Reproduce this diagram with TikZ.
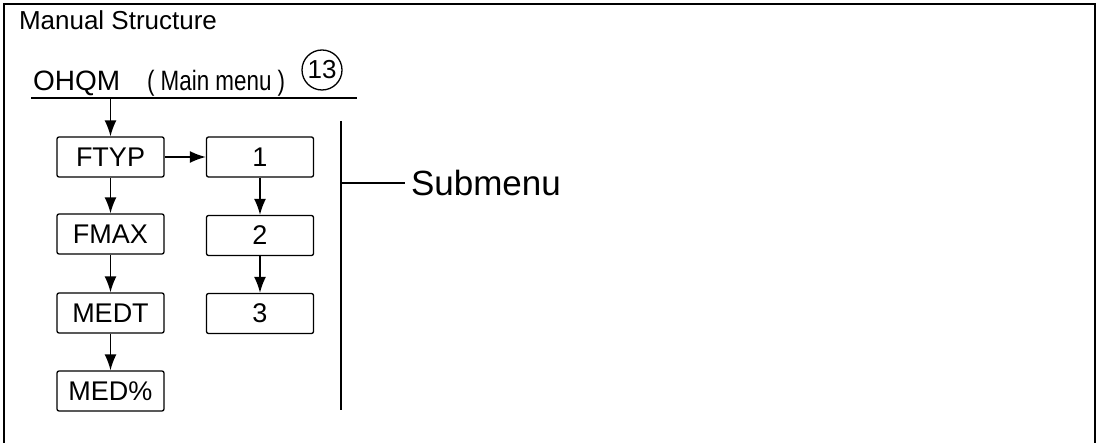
\documentclass[tikz,border=0pt]{standalone}
\usepackage{fontspec}
\setmainfont{Liberation Sans}
\usetikzlibrary{arrows.meta}

\begin{document}
\begin{tikzpicture}[x=1pt,y=-1pt]
\tikzstyle{menubox}=[draw,rounded corners=2pt,line width=1.3pt,minimum width=107pt,minimum height=40pt,inner sep=0pt,font=\fontsize{27}{29}\selectfont]
\tikzstyle{flow}=[line width=1.6pt,-{Latex[length=16pt,width=12pt]}]
\tikzstyle{label}=[anchor=base west,inner sep=0pt,outer sep=0pt]

	\useasboundingbox (0,0) rectangle (1097,443);
	\draw [line width=1.7pt] (4,445) -- (4,4) -- (1095,4) -- (1095,445);

	\node (title) [label,font=\fontsize{26}{28}\selectfont] at (19,30) {Manual Structure};

	% main menu header
	\node (ohqm) [label,font=\fontsize{28}{30}\selectfont] at (33,91) {OHQM};
	\node (mainmenu) [label,font=\fontsize{28}{30}\selectfont] at (147,91) {\scalebox{0.8}[1]{( Main menu )}};
	\node (num) [draw,circle,line width=1.3pt,minimum size=40pt,inner sep=0pt,font=\fontsize{26}{28}\selectfont] at (322,70) {13};
	\coordinate (ul-a) at (31,98);
	\coordinate (ul-b) at (357,98);
	\coordinate (tap) at (110.5,98);
	\draw [line width=1.6pt] (ul-a) -- (ul-b);

	% left column
	\node (ftyp) [menubox] at (110.5,157) {FTYP};
	\node (fmax) [menubox] at (110.5,234) {FMAX};
	\node (medt) [menubox] at (110.5,313) {MEDT};
	\node (medp) [menubox] at (110.5,391) {MED\%};

	% submenu column
	\node (s1) [menubox] at (260,157) {1};
	\node (s2) [menubox] at (260,235.5) {2};
	\node (s3) [menubox] at (260,313.5) {3};

	\draw [flow] (tap) -- (ftyp);
	\draw [flow] (ftyp) -- (fmax);
	\draw [flow] (fmax) -- (medt);
	\draw [flow] (medt) -- (medp);
	\draw [flow] (ftyp) -- (s1);
	\draw [flow] (s1) -- (s2);
	\draw [flow] (s2) -- (s3);

	% bracket and label
	\coordinate (sep-top) at (341,121);
	\coordinate (sep-bot) at (341,410);
	\coordinate (sep-mid) at (341,183);
	\coordinate (sep-end) at (405,183);
	\draw [line width=1.4pt] (sep-top) -- (sep-bot);
	\draw [line width=1.4pt] (sep-mid) -- (sep-end);
	\node (submenu) [label,font=\fontsize{35}{37}\selectfont] at (411,196) {Submenu};

\end{tikzpicture}
\end{document}
